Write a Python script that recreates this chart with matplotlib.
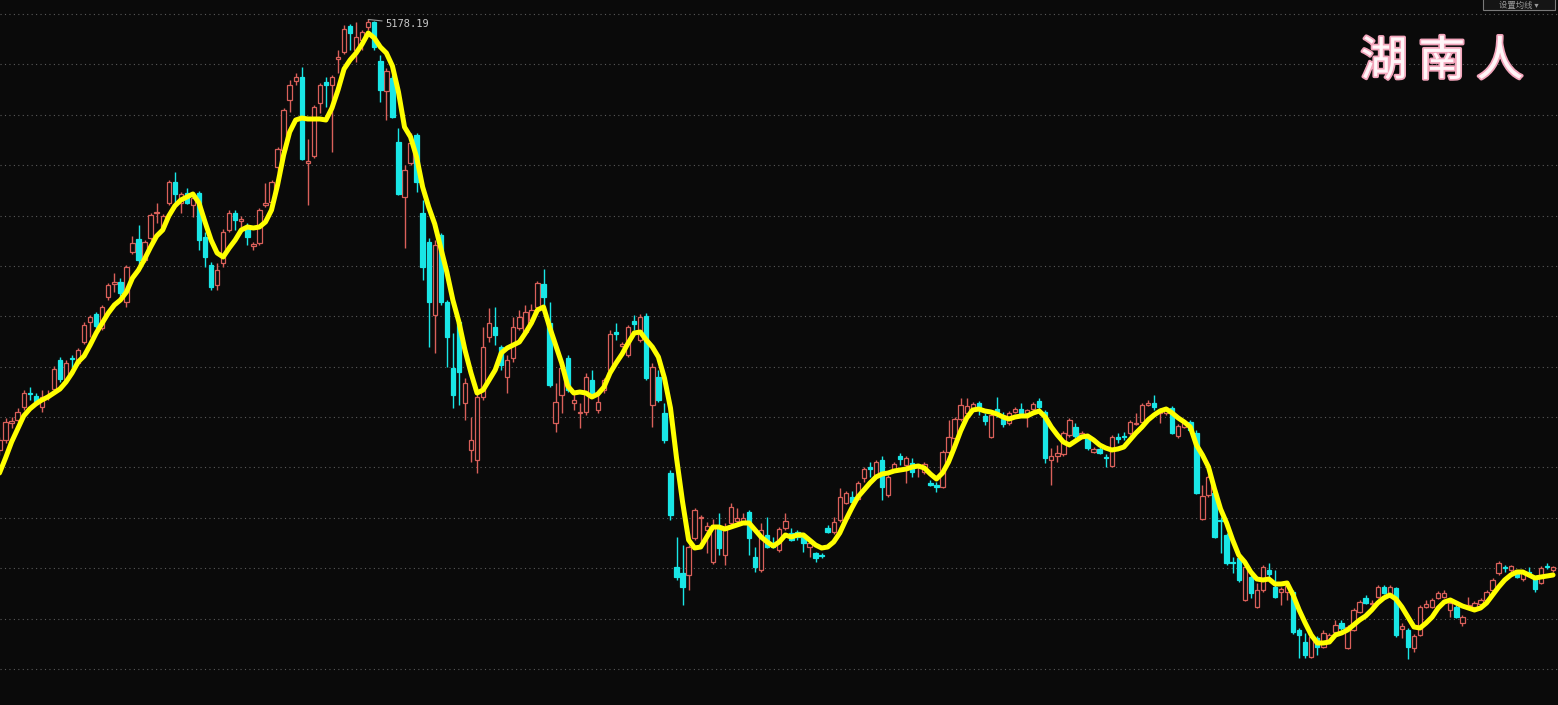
import numpy as np
import matplotlib
matplotlib.use('Agg')
import matplotlib.pyplot as plt
from matplotlib.patches import Rectangle
import matplotlib.patheffects as pe

plt.rcParams['font.family'] = ['Noto Sans CJK SC', 'DejaVu Sans']

# daily OHLC (index points)
opens = [
    3456, 3496, 3564, 3576, 3628, 3684, 3672, 3628, 3668, 3700,
    3816, 3736, 3824, 3804, 3888, 3968, 4000, 3944, 4068, 4120,
    4128, 4048, 4248, 4300, 4216, 4304, 4404, 4348, 4444, 4528,
    4444, 4484, 4436, 4484, 4308, 4196, 4116, 4204, 4336, 4404,
    4372, 4348, 4272, 4284, 4436, 4448, 4588, 4656, 4856, 4932,
    4948, 4604, 4632, 4844, 4928, 4916, 5020, 5048, 5152, 5056,
    5096, 5148, 5168, 5012, 4892, 4944, 4688, 4468, 4604, 4716,
    4404, 4288, 3996, 4316, 4048, 3784, 3968, 3644, 3456, 3416,
    3668, 3908, 3948, 3868, 3748, 3824, 3944, 3928, 3976, 4028,
    4120, 3964, 3564, 3676, 3824, 3644, 3604, 3608, 3736, 3616,
    3696, 3776, 3928, 3872, 3836, 3972, 3896, 3992, 3636, 3748,
    3604, 3364, 2988, 2964, 2956, 3104, 3184, 3136, 3008, 3148,
    3036, 3164, 3172, 3168, 3208, 3028, 2976, 3116, 3084, 3056,
    3144, 3124, 3128, 3108, 3068, 3044, 3036, 3144, 3128, 3176,
    3244, 3268, 3260, 3344, 3388, 3356, 3416, 3276, 3376, 3432,
    3396, 3404, 3388, 3368, 3324, 3316, 3308, 3448, 3504, 3580,
    3604, 3620, 3644, 3592, 3508, 3620, 3580, 3564, 3608, 3620,
    3604, 3620, 3652, 3608, 3416, 3432, 3440, 3516, 3548, 3516,
    3508, 3448, 3460, 3428, 3392, 3508, 3512, 3524, 3560, 3568,
    3636, 3644, 3604, 3604, 3624, 3512, 3548, 3568, 3524, 3180,
    3276, 3284, 3176, 3116, 3008, 3024, 2856, 2948, 2828, 2896,
    2976, 2908, 2888, 2888, 2888, 2736, 2688, 2628, 2704, 2668,
    2696, 2728, 2764, 2664, 2736, 2808, 2864, 2840, 2868, 2908,
    2876, 2904, 2740, 2736, 2664, 2716, 2828, 2828, 2864, 2868,
    2816, 2828, 2764, 2824, 2828, 2840, 2856, 2896, 2964, 2988,
    2976, 2968, 2940, 2968, 2940, 2924, 2992, 2976,
]
highs = [
    3508, 3584, 3588, 3624, 3696, 3708, 3684, 3696, 3696, 3792,
    3828, 3816, 3836, 3864, 3968, 3996, 4008, 4036, 4124, 4164,
    4144, 4196, 4312, 4356, 4296, 4404, 4444, 4400, 4536, 4568,
    4488, 4504, 4484, 4492, 4328, 4208, 4204, 4340, 4416, 4416,
    4392, 4364, 4288, 4424, 4524, 4536, 4668, 4824, 4936, 4964,
    4988, 4700, 4836, 4924, 4948, 4956, 5056, 5156, 5160, 5168,
    5136, 5178.19, 5172, 5036, 4984, 4956, 4744, 4596, 4724, 4724,
    4456, 4304, 4296, 4324, 4056, 3924, 3976, 3744, 3588, 3696,
    3948, 4024, 4028, 3876, 3836, 3988, 4016, 4036, 4040, 4132,
    4180, 4048, 3724, 3796, 3836, 3684, 3644, 3764, 3776, 3696,
    3744, 3936, 3964, 3888, 3956, 3996, 4000, 4004, 3804, 3776,
    3644, 3376, 3108, 3076, 3076, 3224, 3196, 3168, 3180, 3204,
    3164, 3244, 3224, 3204, 3216, 3068, 3164, 3188, 3108, 3148,
    3204, 3144, 3136, 3124, 3092, 3048, 3044, 3156, 3188, 3304,
    3292, 3292, 3332, 3388, 3408, 3416, 3432, 3356, 3408, 3444,
    3432, 3424, 3396, 3408, 3336, 3328, 3456, 3576, 3588, 3664,
    3664, 3648, 3652, 3604, 3604, 3668, 3608, 3612, 3628, 3644,
    3620, 3648, 3664, 3616, 3464, 3476, 3532, 3584, 3564, 3532,
    3516, 3468, 3468, 3440, 3516, 3524, 3528, 3576, 3604, 3644,
    3656, 3676, 3624, 3624, 3632, 3560, 3576, 3576, 3536, 3316,
    3356, 3296, 3188, 3124, 3028, 3032, 2996, 2956, 2924, 2996,
    3004, 2976, 2908, 2920, 2896, 2744, 2724, 2716, 2712, 2736,
    2724, 2776, 2776, 2756, 2824, 2856, 2876, 2856, 2916, 2916,
    2916, 2908, 2764, 2744, 2720, 2836, 2856, 2864, 2892, 2896,
    2856, 2836, 2796, 2868, 2852, 2864, 2896, 2944, 3012, 2996,
    2996, 2976, 2972, 2988, 2948, 2992, 3004, 2992,
]
lows = [
    3436, 3484, 3544, 3568, 3616, 3656, 3644, 3608, 3656, 3696,
    3728, 3728, 3788, 3796, 3880, 3908, 3944, 3936, 4056, 4088,
    4072, 4028, 4240, 4196, 4208, 4296, 4364, 4336, 4436, 4444,
    4404, 4440, 4388, 4256, 4188, 4096, 4096, 4188, 4328, 4336,
    4348, 4276, 4256, 4276, 4428, 4440, 4564, 4648, 4808, 4916,
    4616, 4436, 4624, 4804, 4828, 4648, 4964, 5040, 5056, 5008,
    5056, 5136, 5056, 4848, 4776, 4784, 4476, 4264, 4596, 4488,
    4136, 3868, 3844, 4036, 3788, 3624, 3636, 3576, 3408, 3364,
    3656, 3888, 3876, 3776, 3684, 3808, 3936, 3920, 3968, 4024,
    4024, 3708, 3528, 3604, 3688, 3616, 3544, 3596, 3676, 3604,
    3684, 3768, 3896, 3868, 3828, 3936, 3888, 3736, 3548, 3648,
    3484, 3176, 2936, 2836, 2896, 3096, 3084, 3044, 3000, 3036,
    2996, 3156, 3164, 3164, 3036, 2968, 2968, 3064, 3064, 3048,
    3136, 3092, 3096, 3048, 3028, 3008, 3024, 3124, 3120, 3168,
    3240, 3244, 3256, 3328, 3348, 3348, 3256, 3268, 3368, 3396,
    3324, 3348, 3348, 3360, 3312, 3288, 3304, 3440, 3496, 3572,
    3588, 3612, 3596, 3556, 3504, 3588, 3548, 3556, 3604, 3588,
    3548, 3612, 3620, 3404, 3316, 3408, 3432, 3508, 3504, 3508,
    3456, 3444, 3440, 3388, 3388, 3484, 3496, 3516, 3556, 3560,
    3632, 3616, 3564, 3596, 3520, 3504, 3544, 3532, 3280, 3176,
    3268, 3104, 3044, 2996, 2964, 2928, 2852, 2864, 2824, 2888,
    2936, 2864, 2836, 2856, 2720, 2624, 2624, 2624, 2636, 2664,
    2692, 2724, 2736, 2660, 2732, 2804, 2840, 2828, 2864, 2880,
    2872, 2708, 2704, 2620, 2648, 2712, 2824, 2824, 2860, 2864,
    2788, 2784, 2752, 2820, 2824, 2832, 2852, 2888, 2956, 2968,
    2968, 2944, 2932, 2956, 2888, 2920, 2980, 2968,
]
closes = [
    3496, 3568, 3572, 3608, 3684, 3680, 3652, 3668, 3676, 3780,
    3740, 3804, 3820, 3856, 3956, 3988, 3952, 4028, 4116, 4128,
    4084, 4188, 4284, 4216, 4288, 4396, 4408, 4392, 4528, 4480,
    4480, 4444, 4464, 4296, 4228, 4108, 4176, 4328, 4404, 4376,
    4380, 4308, 4280, 4416, 4444, 4528, 4660, 4816, 4916, 4948,
    4620, 4612, 4828, 4916, 4916, 4948, 5028, 5140, 5124, 5108,
    5128, 5168, 5068, 4896, 4972, 4788, 4480, 4576, 4684, 4528,
    4188, 4048, 4276, 4048, 3908, 3676, 3768, 3724, 3496, 3668,
    3868, 3964, 3916, 3796, 3816, 3948, 3988, 4008, 4016, 4124,
    4068, 3716, 3648, 3784, 3696, 3656, 3608, 3748, 3684, 3648,
    3736, 3920, 3920, 3880, 3948, 3960, 3988, 3744, 3788, 3656,
    3496, 3196, 2948, 2908, 3068, 3216, 3188, 3152, 3148, 3064,
    3148, 3228, 3184, 3184, 3104, 2988, 3136, 3068, 3068, 3140,
    3172, 3096, 3108, 3084, 3084, 3024, 3032, 3128, 3168, 3268,
    3284, 3248, 3324, 3380, 3380, 3408, 3308, 3348, 3400, 3420,
    3424, 3368, 3392, 3400, 3316, 3308, 3448, 3508, 3580, 3636,
    3632, 3640, 3628, 3572, 3596, 3608, 3560, 3604, 3620, 3604,
    3616, 3640, 3628, 3424, 3432, 3444, 3524, 3576, 3512, 3524,
    3464, 3460, 3444, 3424, 3508, 3500, 3508, 3568, 3564, 3636,
    3644, 3628, 3612, 3616, 3524, 3552, 3564, 3536, 3284, 3272,
    3348, 3108, 3172, 3004, 3004, 2936, 2988, 2884, 2896, 2988,
    2960, 2868, 2900, 2912, 2728, 2716, 2636, 2708, 2668, 2724,
    2716, 2756, 2744, 2748, 2816, 2848, 2844, 2844, 2908, 2884,
    2908, 2716, 2752, 2668, 2712, 2828, 2840, 2856, 2884, 2884,
    2844, 2788, 2788, 2836, 2844, 2856, 2888, 2936, 3004, 2984,
    2992, 2948, 2964, 2964, 2900, 2984, 2988, 2988,
]
# yellow moving average
ma = [
    3364, 3424, 3488, 3540, 3592, 3620, 3640, 3656, 3668, 3684,
    3700, 3728, 3764, 3808, 3832, 3876, 3924, 3964, 4004, 4036,
    4056, 4088, 4144, 4176, 4220, 4268, 4312, 4336, 4392, 4432,
    4456, 4468, 4480, 4444, 4368, 4296, 4244, 4228, 4264, 4296,
    4336, 4348, 4344, 4348, 4368, 4416, 4516, 4636, 4728, 4776,
    4784, 4780, 4780, 4780, 4776, 4824, 4896, 4980, 5016, 5044,
    5080, 5124, 5104, 5068, 5044, 4992, 4888, 4748, 4708, 4628,
    4508, 4428, 4360, 4264, 4168, 4056, 3968, 3856, 3764, 3684,
    3696, 3736, 3776, 3844, 3864, 3876, 3888, 3924, 3964, 4016,
    4028, 3948, 3876, 3804, 3712, 3684, 3688, 3684, 3668, 3680,
    3708, 3764, 3804, 3840, 3884, 3924, 3928, 3896, 3868, 3828,
    3744, 3624, 3424, 3248, 3096, 3064, 3068, 3108, 3148, 3148,
    3140, 3148, 3156, 3164, 3164, 3136, 3108, 3088, 3072, 3088,
    3116, 3108, 3116, 3116, 3096, 3076, 3064, 3068, 3088, 3124,
    3176, 3224, 3268, 3296, 3324, 3348, 3360, 3364, 3372, 3376,
    3380, 3388, 3392, 3384, 3360, 3340, 3364, 3408, 3468, 3532,
    3584, 3616, 3620, 3612, 3608, 3600, 3588, 3580, 3588, 3592,
    3592, 3604, 3612, 3588, 3548, 3516, 3488, 3476, 3492, 3508,
    3512, 3496, 3476, 3464, 3456, 3460, 3468, 3496, 3524, 3548,
    3576, 3596, 3612, 3620, 3604, 3584, 3568, 3548, 3476, 3436,
    3388, 3300, 3220, 3164, 3096, 3036, 3008, 2968, 2940, 2936,
    2940, 2920, 2920, 2924, 2876, 2816, 2764, 2716, 2684, 2684,
    2688, 2716, 2724, 2736, 2756, 2776, 2792, 2816, 2844, 2864,
    2876, 2860, 2828, 2788, 2748, 2744, 2764, 2788, 2824, 2848,
    2856, 2844, 2832, 2824, 2816, 2824, 2844, 2876, 2908, 2936,
    2956, 2968, 2968, 2956, 2944, 2948, 2952, 2956,
]
peak_label = '5178.19'
watermark = ['湖', '南', '人']
button_text = '设置均线 ▾'

BG = '#0a0a0a'
UP = '#d9605a'
DOWN = '#19e6e6'
MA_COLOR = '#ffff00'
GRID = '#5a5a5a'

o = np.array(opens, dtype=float)
h = np.array(highs, dtype=float)
l = np.array(lows, dtype=float)
c = np.array(closes, dtype=float)
x = np.arange(len(c))
up = c >= o
dn = ~up

fig = plt.figure(figsize=(15.58, 7.05), dpi=100, facecolor=BG)
ax = fig.add_axes([0, 0, 1, 1])
ax.set_facecolor(BG)
ax.set_xlim(0.083, 257.82)
ax.set_ylim(2436, 5256)
for s in ax.spines.values():
    s.set_visible(False)
ax.set_xticks([])
ax.set_yticks([])

# dotted horizontal grid
grid_levels = 5200 - 201.5 * np.arange(14)
ax.hlines(grid_levels, 0, 1, transform=ax.get_yaxis_transform(),
          colors=GRID, linestyles=(0, (1, 3)), lw=0.8, zorder=0)

# wicks
ax.vlines(x[up], l[up], h[up], color=UP, lw=1, zorder=1)
ax.vlines(x[dn], l[dn], h[dn], color=DOWN, lw=1, zorder=1)

# bodies: hollow red for up, filled cyan for down
w = 0.72
ax.bar(x[up], c[up] - o[up], bottom=o[up], width=w,
       facecolor=BG, edgecolor=UP, lw=0.9, zorder=2)
ax.bar(x[dn], o[dn] - c[dn], bottom=c[dn], width=w,
       facecolor=DOWN, edgecolor=DOWN, lw=0.9, zorder=2)

# moving average
ax.plot(x, ma, color=MA_COLOR, lw=3.6, zorder=3,
        solid_joinstyle='round', solid_capstyle='round')

# peak label
pk = int(np.argmax(h))
ax.annotate(peak_label, xy=(pk, h[pk]), xytext=(12, -3),
            textcoords='offset points', color='#c8c8c8', fontsize=7.5,
            family='DejaVu Sans Mono', ha='left', va='center', zorder=4,
            arrowprops=dict(arrowstyle='-', color='#9a9a9a', lw=0.8,
                            shrinkA=0, shrinkB=0))

# button in the top-right corner
btn = Rectangle((1483 / 1558, 1 - 10 / 705), 72 / 1558, 20 / 705,
                transform=fig.transFigure, facecolor='#151515',
                edgecolor='#7a7a7a', lw=0.8, zorder=5)
fig.patches.append(btn)
fig.text(1519 / 1558, 1 - 5 / 705, button_text, color='#9a9a9a',
         fontsize=6, ha='center', va='center', zorder=6)

# handwritten-style watermark, loosely spaced, thin strokes
for i, ch in enumerate(watermark):
    fig.text((1384 + 58 * i) / 1558, 1 - 62 / 705, ch, ha='center',
             va='center', fontsize=34, fontweight=200, color='#fff6f8',
             path_effects=[pe.withStroke(linewidth=2.5,
                                         foreground='#f2a5bb')])

fig.savefig('out.png', dpi=100, facecolor=BG)
